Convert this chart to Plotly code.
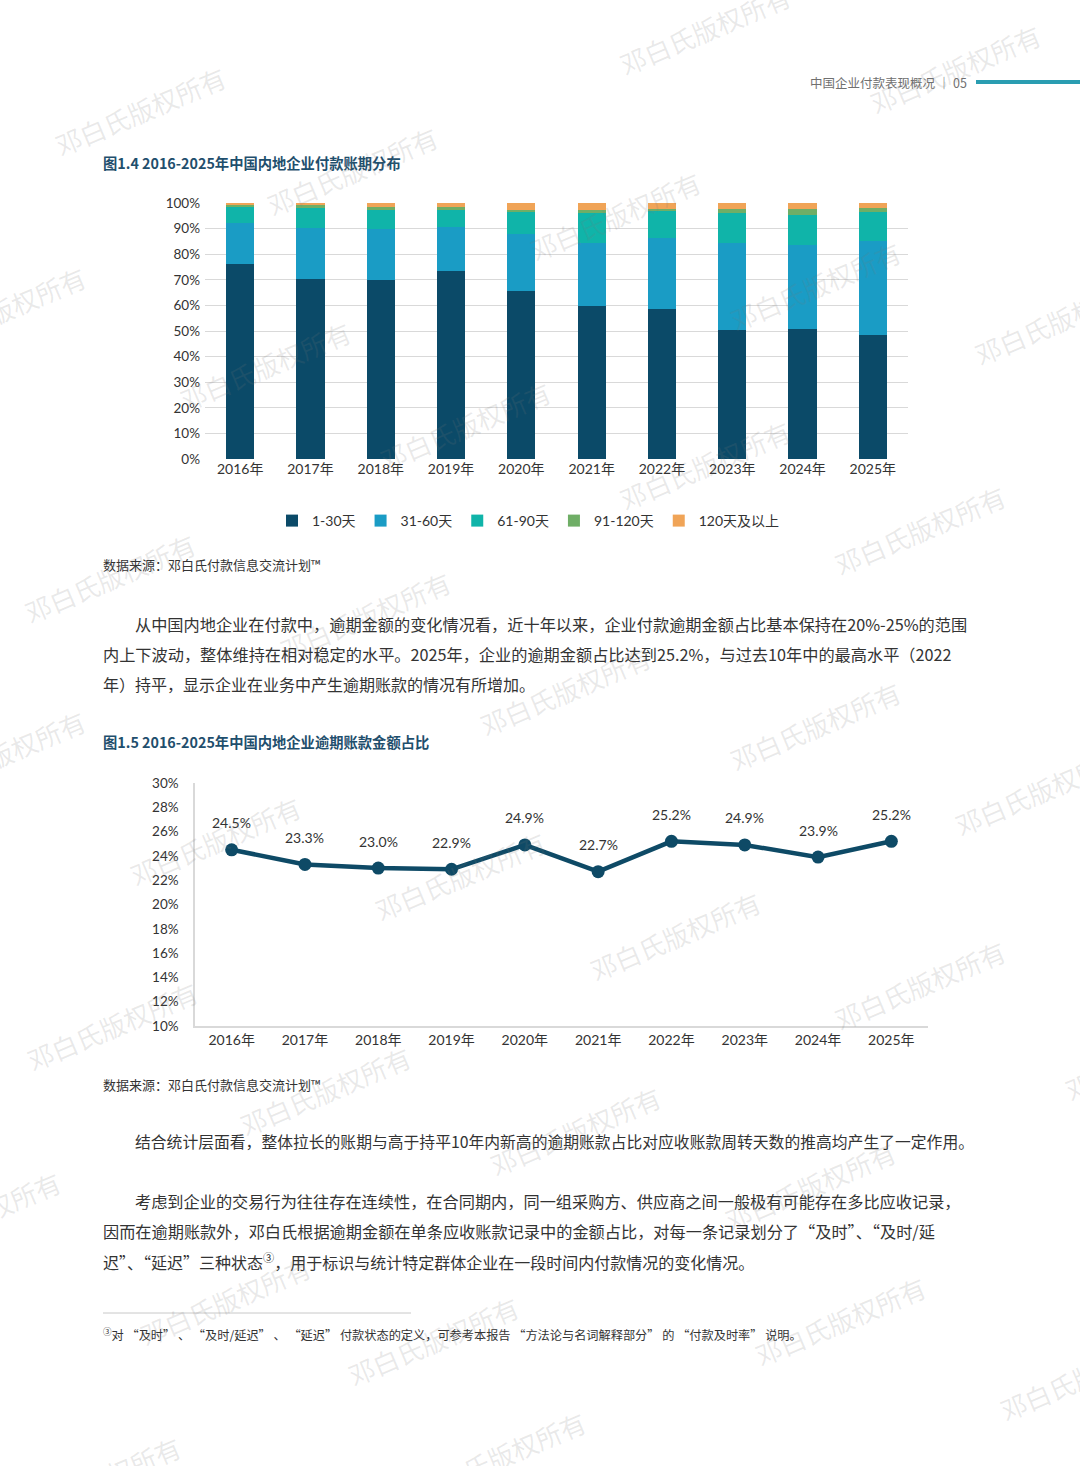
import plotly.graph_objects as go

# --- Data ---
years = ["2016年", "2017年", "2018年", "2019年", "2020年",
         "2021年", "2022年", "2023年", "2024年", "2025年"]

term_names = ["1-30天", "31-60天", "61-90天", "91-120天", "120天及以上"]
d1_30 = [76.0, 70.2, 69.9, 73.3, 65.8, 59.8, 58.5, 50.3, 50.7, 48.4]
d31_60 = [16.0, 20.0, 20.1, 17.4, 22.0, 24.6, 28.0, 34.2, 32.8, 36.8]
d61_90 = [6.5, 7.9, 7.4, 6.7, 8.6, 11.7, 10.3, 11.6, 12.0, 11.2]
d91_120 = [1.0, 1.0, 1.0, 1.0, 1.0, 1.3, 1.0, 1.6, 2.2, 1.7]
d120p = [0.5, 0.9, 1.6, 1.6, 2.6, 2.6, 2.2, 2.3, 2.3, 1.9]
term_values = [d1_30, d31_60, d61_90, d91_120, d120p]

overdue_share = [24.5, 23.3, 23.0, 22.9, 24.9, 22.7, 25.2, 24.9, 23.9, 25.2]

# --- Styles ---
W, H = 1080, 1466
TERM_COLORS = ["#0b4a68", "#1a9cc5", "#10b4a9", "#6fae66", "#f0a457"]
LINE_COLOR = "#0e4a66"
TITLE_COLOR = "#1f4f6d"
TEXT_COLOR = "#333333"
CJK = "Noto Sans CJK SC"
NUM_FONT = "Lato, 'Noto Sans CJK SC'"
GRID = "#d9d9d9"


def px(x):
    return x / W


def py(y):
    return 1 - y / H


fig = go.Figure()

# --- Chart 1: stacked bars ---
for name, vals, col in zip(term_names, term_values, TERM_COLORS):
    fig.add_trace(go.Bar(
        x=years, y=vals, name=name, marker_color=col,
        marker_line_width=0, xaxis="x", yaxis="y"
    ))

# --- Chart 2: line ---
fig.add_trace(go.Scatter(
    x=years, y=overdue_share, mode="lines+markers",
    line=dict(color=LINE_COLOR, width=4.5),
    marker=dict(size=13, color=LINE_COLOR),
    showlegend=False, xaxis="x2", yaxis="y2"
))

annotations = []
for yr, v in zip(years, overdue_share):
    annotations.append(dict(
        x=yr, y=v, xref="x2", yref="y2", text=f"{v:.1f}%",
        showarrow=False, yshift=27,
        font=dict(family=NUM_FONT, size=14, color=TEXT_COLOR)
    ))


def add_text(x, y, text, size=16, color=TEXT_COLOR, bold=False, anchor="left"):
    if bold:
        text = f"<b>{text}</b>"
    annotations.append(dict(
        x=px(x), y=py(y), xref="paper", yref="paper", text=text,
        xanchor=anchor, yanchor="middle", showarrow=False,
        font=dict(family=CJK, size=size, color=color)
    ))


# header
add_text(969, 83, "中国企业付款表现概况 ｜ 05", size=12.5, color="#707070", anchor="right")

# titles and sources
add_text(101, 163, "图1.4 2016-2025年中国内地企业付款账期分布", size=14.3, color=TITLE_COLOR, bold=True)
add_text(101, 564, "数据来源：邓白氏付款信息交流计划™", size=13)
add_text(101, 741, "图1.5 2016-2025年中国内地企业逾期账款金额占比", size=14.3, color=TITLE_COLOR, bold=True)
add_text(101, 1084, "数据来源：邓白氏付款信息交流计划™", size=13)

# paragraphs
add_text(133, 624, "从中国内地企业在付款中，逾期金额的变化情况看，近十年以来，企业付款逾期金额占比基本保持在20%-25%的范围",
         size=16.2)
add_text(101, 654, "内上下波动，整体维持在相对稳定的水平。2025年，企业的逾期金额占比达到25.2%，与过去10年中的最高水平（2022",
         size=16.2)
add_text(101, 684, "年）持平，显示企业在业务中产生逾期账款的情况有所增加。")

add_text(133, 1141, "结合统计层面看，整体拉长的账期与高于持平10年内新高的逾期账款占比对应收账款周转天数的推高均产生了一定作用。",
         size=15.8)

add_text(133, 1201, "考虑到企业的交易行为往往存在连续性，在合同期内，同一组采购方、供应商之间一般极有可能存在多比应收记录，",
         size=16.2)
add_text(101, 1231, "因而在逾期账款外，邓白氏根据逾期金额在单条应收账款记录中的金额占比，对每一条记录划分了“及时”、“及时/延",
         size=16.2)
add_text(101, 1261, "迟”、“延迟”三种状态<sup>③</sup>，用于标识与统计特定群体企业在一段时间内付款情况的变化情况。")

add_text(101, 1334, "<sup>③</sup>对 “及时” 、 “及时/延迟” 、 “延迟” 付款状态的定义，可参考本报告 “方法论与名词解释部分” 的 “付款及时率” 说明。",
         size=12.2)

# watermarks
wm_text = "邓白氏版权所有"
wm_pos = [(140, 110), (705, 30), (955, 68), (352, 170), (0, 310), (615, 215),
          (815, 285), (1060, 320), (265, 365), (465, 425), (705, 465), (920, 530),
          (110, 578), (365, 615), (565, 690), (815, 725), (0, 755), (1040, 790),
          (215, 840), (460, 875), (675, 935), (920, 985), (112, 1025), (325, 1090),
          (575, 1130), (810, 1185), (1150, 1055), (-25, 1215), (225, 1300),
          (433, 1340), (840, 1320), (1085, 1375), (95, 1480), (500, 1455)]
for wx, wy in wm_pos:
    annotations.append(dict(
        x=px(wx), y=py(wy), xref="paper", yref="paper", text=wm_text,
        showarrow=False, textangle=-23, xanchor="center", yanchor="middle",
        font=dict(family=CJK, size=26, color="rgba(120,120,120,0.16)")
    ))

shapes = [
    dict(type="line", xref="paper", yref="paper", x0=px(976), x1=1.0,
         y0=py(82), y1=py(82), line=dict(color="#2a9db1", width=4)),
    dict(type="line", xref="paper", yref="paper", x0=px(103), x1=px(411),
         y0=py(1313), y1=py(1313), line=dict(color="#c8c8c8", width=1)),
]

fig.update_layout(
    width=W, height=H,
    margin=dict(l=0, r=0, t=0, b=0, autoexpand=False),
    paper_bgcolor="white", plot_bgcolor="white",
    barmode="stack", bargap=0.6,
    font=dict(family=NUM_FONT, color=TEXT_COLOR),
    xaxis=dict(domain=[px(205), px(908)], showgrid=False, showline=False,
               ticks="", tickfont=dict(family=NUM_FONT, size=14, color=TEXT_COLOR),
               anchor="y", fixedrange=True),
    yaxis=dict(domain=[py(459), py(203)], range=[0, 100], dtick=10, ticksuffix="%",
               showgrid=True, gridcolor=GRID, gridwidth=1, zeroline=False, showline=False,
               tickfont=dict(family=NUM_FONT, size=13.5, color=TEXT_COLOR),
               ticklabelstandoff=4, anchor="x"),
    xaxis2=dict(domain=[px(195), px(928)], range=[-0.5, 9.5], showgrid=False,
                showline=True, linecolor=GRID, linewidth=1.5, ticks="",
                tickfont=dict(family=NUM_FONT, size=14, color=TEXT_COLOR),
                anchor="y2"),
    yaxis2=dict(domain=[py(1026), py(783)], range=[10, 30], dtick=2, ticksuffix="%",
                showgrid=False, zeroline=False, showline=True, linecolor=GRID, linewidth=1.5,
                tickfont=dict(family=NUM_FONT, size=13.5, color=TEXT_COLOR),
                ticklabelstandoff=12, anchor="x2"),
    legend=dict(orientation="h", x=px(272), xanchor="left", y=py(505), yanchor="top",
                font=dict(family=NUM_FONT, size=14, color=TEXT_COLOR),
                itemwidth=30, traceorder="normal", bgcolor="rgba(0,0,0,0)"),
    annotations=annotations,
    shapes=shapes,
)

# pin the figure to the page corner so the page is exactly the figure size
PIN = (
    "var s=document.createElement('style');"
    "s.innerHTML='html,body{margin:0;padding:0;overflow:hidden;width:1080px;height:1466px;}';"
    "document.head.appendChild(s);"
    "var d=document.getElementById('{plot_id}');"
    "d.style.position='absolute';d.style.left='0px';d.style.top='0px';"
)

fig.write_html("out.html", config={"displayModeBar": False}, post_script=PIN)
